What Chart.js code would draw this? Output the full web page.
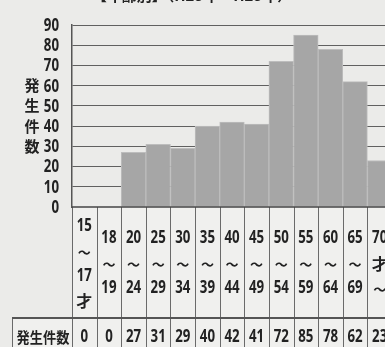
<!DOCTYPE html>
<html>
<head>
<meta charset="utf-8">
<script src="https://cdn.jsdelivr.net/npm/chart.js@4/dist/chart.umd.min.js"></script>
<style>
  html, body { margin: 0; padding: 0; background: #ebebe9; overflow: hidden; width: 385px; height: 347px; }
  #wrap { position: relative; width: 400px; height: 347px; }
  canvas { display: block; }
</style>
</head>
<body>
<div id="wrap"><canvas id="chart" width="400" height="347"></canvas></div>
<script>
const ageLabels = [
  ['15', '～', '17', '才'],
  ['18', '～', '19'],
  ['20', '～', '24'],
  ['25', '～', '29'],
  ['30', '～', '34'],
  ['35', '～', '39'],
  ['40', '～', '44'],
  ['45', '～', '49'],
  ['50', '～', '54'],
  ['55', '～', '59'],
  ['60', '～', '64'],
  ['65', '～', '69'],
  ['70', '才', '～']
];
const counts = [0, 0, 27, 31, 29, 40, 42, 41, 72, 85, 78, 62, 23];
const yTicks = [0, 10, 20, 30, 40, 50, 60, 70, 80, 90];
const yTitle = ['発', '生', '件', '数'];
const rowTitle = '発生件数';
const chartTitle = '【年齢別】（H23年～H25年）';

const numFont = "bold 17px 'Noto Sans', 'DejaVu Sans', sans-serif";
const jpFont = "bold 15px 'Noto Sans CJK JP', sans-serif";
const textColor = '#222';

// narrow lettering like the scanned original
function narrowText(ctx, text, x, y, sx) {
  ctx.save();
  ctx.translate(x, y);
  ctx.scale(sx, 1);
  ctx.fillText(text, 0, 0);
  ctx.restore();
}

const tablePlugin = {
  id: 'ageTable',
  afterDraw(chart) {
    const ctx = chart.ctx;
    const xs = chart.scales.x;
    const ys = chart.scales.y;
    const area = chart.chartArea;
    const n = counts.length;
    const colW = xs.width / n;
    const rowTop = area.bottom;
    const rowBottom = 318;
    const dataBottom = 360;
    const cellLeft = 12;

    ctx.save();
    ctx.fillStyle = '#f0f0ee';
    ctx.fillRect(area.left, rowTop, area.right - area.left, rowBottom - rowTop);
    ctx.fillRect(cellLeft, rowBottom, area.right - cellLeft, dataBottom - rowBottom);

    ctx.strokeStyle = '#6a6a6a';
    ctx.lineWidth = 1;
    ctx.beginPath();
    for (let i = 0; i <= n; i++) {
      const x = Math.round(xs.left + i * colW) + 0.5;
      ctx.moveTo(x, rowTop);
      ctx.lineTo(x, dataBottom);
    }
    ctx.moveTo(cellLeft + 0.5, rowBottom);
    ctx.lineTo(cellLeft + 0.5, dataBottom);
    ctx.stroke();

    ctx.strokeStyle = '#555';
    ctx.lineWidth = 2;
    ctx.beginPath();
    ctx.moveTo(cellLeft, rowBottom);
    ctx.lineTo(area.right, rowBottom);
    ctx.stroke();

    ctx.strokeStyle = '#444';
    ctx.lineWidth = 1.5;
    ctx.beginPath();
    ctx.moveTo(area.left, rowTop);
    ctx.lineTo(area.right, rowTop);
    ctx.stroke();

    ctx.fillStyle = textColor;
    ctx.textBaseline = 'middle';

    // y tick labels
    ctx.textAlign = 'right';
    ctx.font = numFont;
    yTicks.forEach(v => {
      narrowText(ctx, String(v), 59, ys.getPixelForValue(v) + 1, 0.78);
    });

    // category labels, centred in the label row
    ctx.textAlign = 'center';
    const lineH = 25;
    const midY = (rowTop + rowBottom) / 2 + 1;
    ageLabels.forEach((lines, i) => {
      const x = xs.getPixelForValue(i);
      const y0 = midY - (lines.length - 1) * lineH / 2;
      lines.forEach((t, k) => {
        if (t === '才') {
          ctx.font = "bold 16px 'Noto Sans CJK JP', sans-serif";
          ctx.fillText(t, x, y0 + k * lineH);
        } else if (t === '～') {
          ctx.font = "bold 13px 'Noto Sans CJK JP', sans-serif";
          ctx.fillText(t, x, y0 + k * lineH + 1);
        } else {
          ctx.font = numFont;
          narrowText(ctx, t, x, y0 + k * lineH, 0.78);
        }
      });
    });

    // value row
    const vy = 337;
    ctx.font = numFont;
    counts.forEach((v, i) => {
      narrowText(ctx, String(v), xs.getPixelForValue(i), vy, 0.78);
    });
    ctx.font = jpFont;
    narrowText(ctx, rowTitle, (cellLeft + area.left) / 2 + 1, vy, 0.88);

    // vertical axis title, stacked characters
    ctx.font = "bold 15px 'Noto Sans CJK JP', sans-serif";
    yTitle.forEach((c, k) => {
      ctx.fillText(c, 32, 85 + k * 20.5);
    });

    // title, mostly cut off at the top
    ctx.font = "bold 15px 'Noto Sans CJK JP', sans-serif";
    ctx.textBaseline = 'bottom';
    ctx.fillText(chartTitle, 192, 3);
    ctx.restore();
  }
};

new Chart(document.getElementById('chart'), {
  type: 'bar',
  data: {
    labels: ageLabels.map(l => l.join('')),
    datasets: [{
      data: counts,
      backgroundColor: '#a6a6a6',
      borderColor: '#bdbdbd',
      borderWidth: { left: 1, right: 1, top: 1, bottom: 0 },
      borderSkipped: false,
      barPercentage: 1,
      categoryPercentage: 1
    }]
  },
  options: {
    responsive: false,
    animation: false,
    devicePixelRatio: 1,
    layout: { padding: { top: 25, right: 8, bottom: 140, left: 0 } },
    plugins: { legend: { display: false }, tooltip: { enabled: false } },
    scales: {
      x: { display: false },
      y: {
        min: 0,
        max: 90,
        afterFit(scale) { scale.width = 72; },
        afterBuildTicks(scale) { scale.ticks = yTicks.map(v => ({ value: v })); },
        ticks: { display: false, autoSkip: false },
        grid: { color: '#606060', lineWidth: 1, drawTicks: false },
        border: { display: true, color: '#555', width: 1.5 }
      }
    }
  },
  plugins: [tablePlugin]
});
</script>
</body>
</html>
